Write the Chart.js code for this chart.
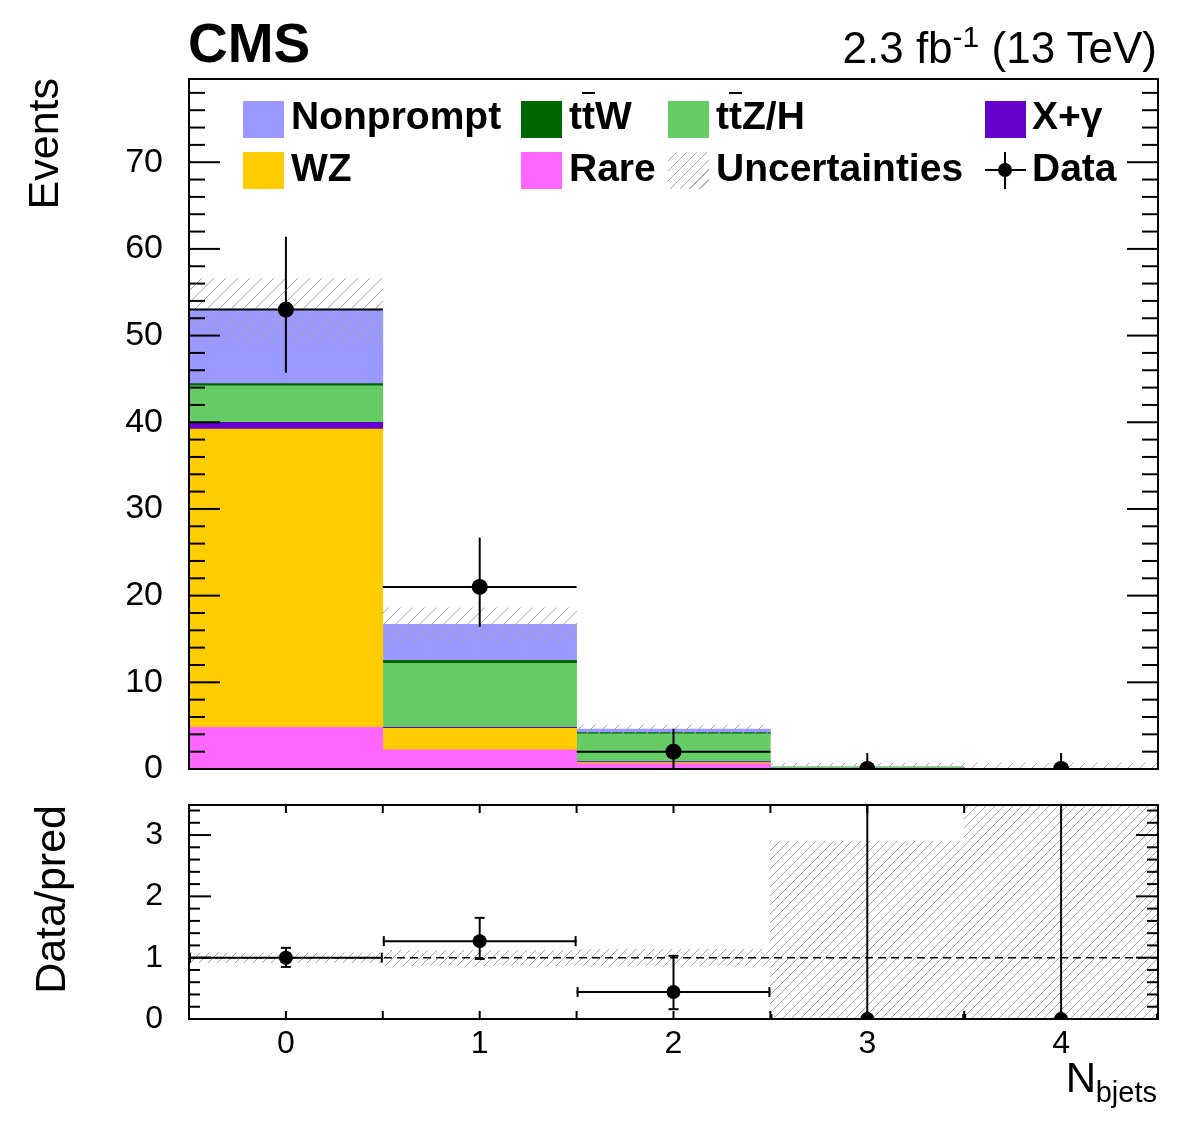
<!DOCTYPE html>
<html><head><meta charset="utf-8">
<script src="https://cdn.jsdelivr.net/npm/chart.js@4.4.1/dist/chart.umd.min.js"></script>
<style>
html,body{margin:0;padding:0;background:#fff;}
#wrap{position:relative;width:1182px;height:1121px;overflow:hidden;font-family:"Liberation Sans",Arial,Helvetica,sans-serif;background:#fff;}
canvas{position:absolute;left:0;}
.t{position:absolute;white-space:nowrap;line-height:1;color:#000;}
.rot{position:absolute;white-space:nowrap;line-height:1;width:300px;text-align:right;transform:rotate(-90deg);transform-origin:left top;}
.lg{position:absolute;white-space:nowrap;line-height:1;font-weight:bold;font-size:39px;}
.sw{position:absolute;width:41px;height:37px;}
.ob{text-decoration:overline;text-decoration-thickness:2px;}
</style></head><body>
<div id="wrap">
<canvas id="main" width="1182" height="790" style="top:0"></canvas>
<canvas id="ratio" width="1182" height="346" style="top:775px"></canvas>
<div class="t" style="left:188px;top:16px;font-size:55px;font-weight:bold;">CMS</div>
<div class="t" style="right:25px;top:26px;font-size:44px;">2.3 fb<span style="font-size:30px;vertical-align:16px;line-height:0;">-1</span> (13 TeV)</div>
<div class="rot" style="left:22px;top:378px;font-size:43px;">Events</div>
<div class="rot" style="left:29px;top:1105px;font-size:43px;">Data/pred</div>
<div class="t" style="right:86px;top:1057px;font-size:42px;">N</div>
<div class="t" style="right:25px;top:1078px;font-size:29px;">bjets</div>
<div id="legend"></div>
</div>
<script>
// ---------------- data ----------------
const BINS = [0, 1, 2, 3, 4];
const BIN_LOW = [-0.5, 0.5, 1.5, 2.5, 3.5];
const BIN_HIGH = [0.5, 1.5, 2.5, 3.5, 4.5];
const RARE = [4.8, 2.2, 0.6, 0.03, 0.02];
const WZ = [34.4, 2.5, 0.15, 0.02, 0.01];
const XGAMMA = [0.8, 0.1, 0.1, 0.0, 0.0];
const TTZH = [4.2, 7.4, 3.2, 0.15, 0.02];
const TTW = [0.25, 0.35, 0.15, 0.02, 0.0];
const NONPROMPT = [8.6, 4.15, 0.4, 0.0, 0.0];
const UNC_LOW = [49.2, 14.6, 4.1, 0.0, 0.0];
const UNC_HIGH = [56.6, 18.6, 5.1, 0.64, 0.65];
const DATA = [53, 21, 2, 0, 0];
const DATA_ERR_LOW = [7.3, 4.6, 2.0, 0, 0];
const DATA_ERR_HIGH = [8.4, 5.7, 2.64, 1.84, 1.84];
const RATIO = [1.0, 1.27, 0.44, 0, 0];
const RATIO_ERR_LOW = [0.15, 0.29, 0.28, 0, 0];
const RATIO_ERR_HIGH = [0.16, 0.38, 0.59, 10, 10];
const RATIO_UNC_LOW = [0.92, 0.87, 0.86, 0, 0];
const RATIO_UNC_HIGH = [1.08, 1.12, 1.14, 2.9, 5];
const RATIO_REF = 1;
const MAIN_Y_TICKS = [0, 10, 20, 30, 40, 50, 60, 70];
const RATIO_Y_TICKS = [0, 1, 2, 3];
const X_TICKS = [0, 1, 2, 3, 4];
const LEGEND_LABELS = ['Nonprompt', 't<span class="ob">t</span>W', 't<span class="ob">t</span>Z/H', 'X+γ', 'WZ', 'Rare', 'Uncertainties', 'Data'];

// ---------------- styles ----------------
const COLORS = {rare:'#ff66ff', wz:'#ffcc00', xg:'#6600cc', ttzh:'#66cc66', ttw:'#006600', np:'#9999ff'};
Chart.defaults.font.family = '"Liberation Sans", Arial, sans-serif';
Chart.defaults.color = '#000';

function makeHatch(size, color, lw) {
  const c = document.createElement('canvas');
  c.width = size; c.height = size;
  const g = c.getContext('2d');
  g.strokeStyle = color; g.lineWidth = lw;
  g.beginPath();
  g.moveTo(0, size); g.lineTo(size, 0);
  g.moveTo(-2, 2); g.lineTo(2, -2);
  g.moveTo(size - 2, size + 2); g.lineTo(size + 2, size - 2);
  g.stroke();
  return document.getElementById('main').getContext('2d').createPattern(c, 'repeat');
}
const hatchMain = makeHatch(12, '#a8a8a8', 1);
const hatchRatio = makeHatch(9, '#a8a8a8', 1);

const pts = (arr) => BINS.map((b, i) => ({x: b, y: arr[i]}));
const rng = (lo, hi) => BINS.map((b, i) => ({x: b, y: [lo[i], hi[i]]}));
const barBase = {type: 'bar', grouped: false, barPercentage: 1, categoryPercentage: 1, borderWidth: 0};

function line(ctx, x1, y1, x2, y2) { ctx.beginPath(); ctx.moveTo(x1, y1); ctx.lineTo(x2, y2); ctx.stroke(); }

function framePlugin(o) {
  return {
    id: 'frame',
    afterDraw(chart) {
      const {ctx, chartArea: a, scales: {x, y}} = chart;
      ctx.save();
      ctx.strokeStyle = '#000'; ctx.lineWidth = 2; ctx.lineCap = 'butt';
      const n = Math.round((o.yMax - o.yMin) / o.yMinor);
      for (let k = 0; k <= n; k++) {
        const v = o.yMin + k * o.yMinor;
        const p = y.getPixelForValue(v);
        if (p < a.top - 0.5 || p > a.bottom + 0.5) continue;
        const r = v / o.yMajor;
        const L = Math.abs(r - Math.round(r)) < 1e-6 ? o.yMajLen : o.yMinLen;
        line(ctx, a.left, p, a.left + L, p);
        line(ctx, a.right, p, a.right - L, p);
      }
      const m = Math.round((o.xMax - o.xMin) / o.xStep);
      for (let k = 0; k <= m; k++) {
        const v = o.xMin + k * o.xStep;
        const p = x.getPixelForValue(v);
        if (p <= a.left + 1 || p >= a.right - 1) continue;
        const isMaj = Math.abs(v - Math.round(v)) < 1e-6;
        const L = isMaj ? o.xMajLen : o.xMinLen;
        if (L <= 0) continue;
        line(ctx, p, a.top, p, a.top + L);
        line(ctx, p, a.bottom, p, a.bottom - L);
      }
      ctx.strokeRect(a.left, a.top, a.right - a.left, a.bottom - a.top);
      ctx.restore();
    }
  };
}

function errPlugin(vals, lo, hi, cap) {
  return {
    id: 'errbars',
    afterDatasetsDraw(chart) {
      const {ctx, chartArea: a, scales: {x, y}} = chart;
      ctx.save();
      ctx.beginPath(); ctx.rect(a.left - 1, a.top, a.right - a.left + 2, a.bottom - a.top + 1); ctx.clip();
      ctx.strokeStyle = '#000'; ctx.lineWidth = 2;
      BINS.forEach((b, i) => {
        const px = x.getPixelForValue(b);
        const py = y.getPixelForValue(vals[i]);
        const x1 = x.getPixelForValue(BIN_LOW[i]), x2 = x.getPixelForValue(BIN_HIGH[i]);
        const y1 = y.getPixelForValue(vals[i] - lo[i]), y2 = y.getPixelForValue(vals[i] + hi[i]);
        line(ctx, x1, py, x2, py);
        line(ctx, px, y1, px, y2);
        if (cap > 0) {
          line(ctx, x1 + 1, py - cap, x1 + 1, py + cap);
          line(ctx, x2 - 1, py - cap, x2 - 1, py + cap);
          if (lo[i] > 0) line(ctx, px - cap, y1, px + cap, y1);
          if (hi[i] > 0 && y2 > a.top) line(ctx, px - cap, y2, px + cap, y2);
        }
      });
      ctx.restore();
    }
  };
}

function noPad(s) { s.paddingTop = 0; s.paddingBottom = 0; s.paddingLeft = 0; s.paddingRight = 0; }

// ---------------- main panel ----------------
new Chart(document.getElementById('main'), {
  type: 'bar',
  data: {
    datasets: [
      {type: 'scatter', label: 'Data', data: pts(DATA), pointRadius: 8, pointHoverRadius: 8, backgroundColor: '#000', borderWidth: 0, stack: 'data', order: 0},
      Object.assign({label: 'Uncertainties', data: rng(UNC_LOW, UNC_HIGH), backgroundColor: hatchMain, stack: 'unc', order: 1}, barBase),
      Object.assign({label: 'Rare', data: pts(RARE), backgroundColor: COLORS.rare, stack: 'mc', order: 2}, barBase),
      Object.assign({label: 'WZ', data: pts(WZ), backgroundColor: COLORS.wz, stack: 'mc', order: 2}, barBase),
      Object.assign({label: 'X+γ', data: pts(XGAMMA), backgroundColor: COLORS.xg, stack: 'mc', order: 2}, barBase),
      Object.assign({label: 'ttZ/H', data: pts(TTZH), backgroundColor: COLORS.ttzh, stack: 'mc', order: 2}, barBase),
      Object.assign({label: 'ttW', data: pts(TTW), backgroundColor: COLORS.ttw, stack: 'mc', order: 2}, barBase),
      Object.assign({label: 'Nonprompt', data: pts(NONPROMPT), backgroundColor: COLORS.np, stack: 'mc', order: 2}, barBase)
    ]
  },
  options: {
    responsive: false, animation: false, devicePixelRatio: 1,
    layout: {padding: {left: 0, right: 24, top: 79, bottom: 21}},
    plugins: {legend: {display: false}, tooltip: {enabled: false}},
    scales: {
      x: {type: 'linear', min: -0.5, max: 4.5, display: false, offset: false,
          grid: {offset: false},
          afterBuildTicks(s) { s.ticks = X_TICKS.map(v => ({value: v})); },
          afterFit: noPad},
      y: {type: 'linear', stacked: true, min: 0, max: 79.6,
          grid: {display: false, drawTicks: false}, border: {display: false},
          afterBuildTicks(s) { s.ticks = MAIN_Y_TICKS.map(v => ({value: v})); },
          afterFit(s) { s.width = 189; noPad(s); },
          ticks: {padding: 26, color: '#000', font: {size: 34}}}
    }
  },
  plugins: [errPlugin(DATA, DATA_ERR_LOW, DATA_ERR_HIGH, 0),
            framePlugin({yMin: 0, yMax: 79.6, yMinor: 2, yMajor: 10, yMajLen: 31, yMinLen: 16, xMin: -0.5, xMax: 4.5, xStep: 1, xMajLen: 19, xMinLen: 0})]
});

// ---------------- ratio panel ----------------
new Chart(document.getElementById('ratio'), {
  type: 'bar',
  data: {
    datasets: [
      {type: 'scatter', label: 'Data/pred', data: pts(RATIO), pointRadius: 7, pointHoverRadius: 7, backgroundColor: '#000', borderWidth: 0, order: 0},
      {type: 'line', label: 'ref', data: [{x: BIN_LOW[0], y: RATIO_REF}, {x: BIN_HIGH[4], y: RATIO_REF}], borderColor: '#000', borderWidth: 1.5, borderDash: [8, 5], pointRadius: 0, order: 1},
      Object.assign({label: 'Uncertainties', data: rng(RATIO_UNC_LOW, RATIO_UNC_HIGH), backgroundColor: hatchRatio, order: 2}, barBase)
    ]
  },
  options: {
    responsive: false, animation: false, devicePixelRatio: 1,
    layout: {padding: {left: 0, right: 24, top: 30, bottom: 52}},
    plugins: {legend: {display: false}, tooltip: {enabled: false}},
    scales: {
      x: {type: 'linear', min: -0.5, max: 4.5, offset: false,
          grid: {display: false, drawTicks: false, offset: false}, border: {display: false},
          afterBuildTicks(s) { s.ticks = X_TICKS.map(v => ({value: v})); },
          afterFit(s) { s.height = 50; noPad(s); },
          ticks: {padding: 6, color: '#000', font: {size: 32}, maxRotation: 0}},
      y: {type: 'linear', min: 0, max: 3.49,
          grid: {display: false, drawTicks: false}, border: {display: false},
          afterBuildTicks(s) { s.ticks = RATIO_Y_TICKS.map(v => ({value: v})); },
          afterFit(s) { s.width = 189; noPad(s); },
          ticks: {padding: 26, color: '#000', font: {size: 32}}}
    }
  },
  plugins: [errPlugin(RATIO, RATIO_ERR_LOW, RATIO_ERR_HIGH, 5),
            framePlugin({yMin: 0, yMax: 3.49, yMinor: 0.2, yMajor: 1, yMajLen: 22, yMinLen: 11, xMin: -0.5, xMax: 4.5, xStep: 0.5, xMajLen: 8, xMinLen: 8})]
});

// ---------------- legend ----------------
(function () {
  const colX = [243, 521, 668, 985];
  const rowY = [101, 152];
  const swatches = [COLORS.np, COLORS.ttw, COLORS.ttzh, COLORS.xg, COLORS.wz, COLORS.rare, 'hatch', 'data'];
  const lg = document.getElementById('legend');
  let html = '';
  LEGEND_LABELS.forEach((lab, i) => {
    const cx = colX[i % 4], cy = rowY[Math.floor(i / 4)];
    const s = swatches[i];
    if (s === 'hatch') {
      html += `<div class="sw" style="left:${cx}px;top:${cy}px;background:repeating-linear-gradient(135deg,#fff 0 6px,#b0b0b0 6px 7px);"></div>`;
    } else if (s === 'data') {
      html += `<div style="position:absolute;left:${cx}px;top:${cy + 17}px;width:41px;height:2px;background:#000"></div>`;
      html += `<div style="position:absolute;left:${cx + 19}px;top:${cy}px;width:2px;height:37px;background:#000"></div>`;
      html += `<div style="position:absolute;left:${cx + 13}px;top:${cy + 11}px;width:14px;height:14px;border-radius:50%;background:#000"></div>`;
    } else {
      html += `<div class="sw" style="left:${cx}px;top:${cy}px;background:${s};"></div>`;
    }
    const tx = cx + (i % 4 === 3 ? 47 : 48);
    const baseline = cy + (i < 4 ? 28 : 29);
    html += `<div class="lg" style="left:${tx}px;top:${baseline - 33}px;">${lab}</div>`;
  });
  lg.innerHTML = html;
})();
</script>
</body></html>
